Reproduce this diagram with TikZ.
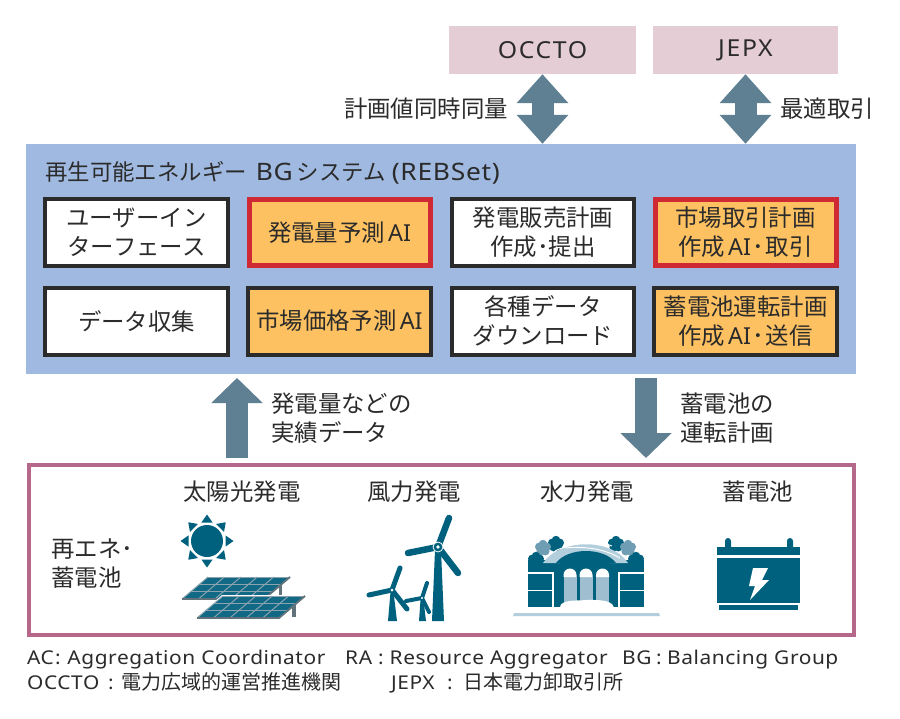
\documentclass[tikz,border=0pt]{standalone}
\usepackage{fontspec}
\setmainfont{Noto Sans CJK JP}
\newfontfamily\lat{Noto Sans}
\newfontfamily\latw[LetterSpace=7,FakeStretch=1.06]{Noto Sans}
\newfontfamily\latn[LetterSpace=3,FakeStretch=1.1]{Noto Sans}
\usetikzlibrary{arrows.meta}
\definecolor{txt}{HTML}{2B2B2B}
\definecolor{panelblue}{HTML}{A0B9E0}
\definecolor{pinkbox}{HTML}{E5CDD6}
\definecolor{arrowc}{HTML}{5F7F92}
\definecolor{rose}{HTML}{B5688A}
\definecolor{orangeb}{HTML}{FDC161}
\definecolor{redb}{HTML}{CF2A33}
\definecolor{teal}{HTML}{00617F}
\definecolor{tealmid}{HTML}{6F9DB3}
\definecolor{teallight}{HTML}{B3CEDC}
\definecolor{gridg}{HTML}{8BA3AE}
\newcommand{\AIx}{\hspace{3pt}{\lat AI}}
\newcommand{\ndot}{･}
\newcommand{\wdot}{\hspace{1.5pt}･\hspace{1.5pt}}
\newcommand{\nt}[1]{{\latn\fontsize{19}{24}\selectfont #1}}
\newcommand{\tl}[1]{{\latn\fontsize{24}{29}\selectfont #1}}
\tikzset{
  base/.style={text=txt,inner sep=0pt,align=center,font=\fontsize{23.4}{29}\selectfont},
  extbox/.style={base,fill=pinkbox,minimum width=187pt,minimum height=48pt},
  sysbox/.style={base,draw=txt,line width=4pt,minimum width=182.5pt,minimum height=67pt},
  whitebox/.style={sysbox,fill=white},
  orangebox/.style={sysbox,fill=orangeb},
  redbox/.style={sysbox,fill=orangeb,draw=redb,line width=5pt,minimum width=181pt,minimum height=66pt},
  lab/.style={base},
  notelab/.style={text=txt,inner sep=0pt,anchor=base west,font=\fontsize{20}{24}\selectfont},
  bigarrow/.style={draw=arrowc,line width=22pt},
  updown/.style={bigarrow,{Triangle[length=29pt,width=50pt]}-{Triangle[length=29pt,width=50pt]}},
  onehead/.style={bigarrow,-{Triangle[length=25pt,width=50pt]}},
}
\newcommand{\solarpanel}[2]{%
  \begin{scope}[shift={(#1,#2)}]
    \fill[teal!88!gridg] (26,0) -- (108,0) -- (82,22) -- (0,22) -- cycle;
    \foreach \t in {0,0.33,0.66,1}{\draw[gridg,line width=1pt] ({26-26*\t},{22*\t}) -- ({108-26*\t},{22*\t});}
    \foreach \s in {0,0.2,0.4,0.6,0.8,1}{\draw[gridg,line width=1pt] ({26+82*\s},0) -- ({82*\s},22);}
    \draw[gridg!70!black,line width=1.8pt] (0,22) -- (82,22) -- (108,0);
  \end{scope}}
\newcommand{\turbine}[9]{%
  \draw[teal,line width=#9pt,line cap=round] (#1,#2) -- (#3,#4);
  \draw[teal,line width=#9pt,line cap=round] (#1,#2) -- (#5,#6);
  \draw[teal,line width=#9pt,line cap=round] (#1,#2) -- (#7,#8);
}
\newcommand{\treetop}[3]{%
  \begin{scope}[shift={(#1,#2)}]
    \foreach \a in {90,162,234,306,18}{\fill[#3] (\a:4pt) circle (4.2pt);}
    \fill[#3] (0,0) circle (4pt);
  \end{scope}}
\begin{document}
\begin{tikzpicture}[x=1pt,y=-1pt]
\useasboundingbox (0,0) rectangle (900,718);
\fill[white] (0,0) rectangle (900,718);
% panels
\node[fill=panelblue,minimum width=830pt,minimum height=230pt,inner sep=0pt] (panel) at (441,259) {};
\node[extbox] (occto) at (542.5,50) {\latw OCCTO};
\node[extbox,minimum width=185pt] (jepx) at (745.5,50) {\latw JEPX};
\node[lab,anchor=west,font=\fontsize{22.4}{29}\selectfont] (title) at (45,173) {再生可能エネルギー\hspace{9pt}\tl{BG}\hspace{4pt}システム\hspace{6pt}\tl{(REBSet)}};
\node[whitebox] (ui) at (136.5,232.5) {ユーザーイン\\ターフェース};
\node[redbox] (gen) at (339.5,232.5) {発電量予測\AIx};
\node[whitebox] (sales) at (543,232.5) {発電販売計画\\作成\ndot 提出};
\node[redbox] (mkt) at (745.5,232.5) {市場取引計画\\作成\AIx\wdot 取引};
\node[whitebox] (data) at (136.5,321) {データ収集};
\node[orangebox] (price) at (339.5,321) {市場価格予測\AIx};
\node[whitebox] (dl) at (543,321) {各種データ\\ダウンロード};
\node[orangebox] (batt) at (745.5,321) {蓄電池運転計画\\作成\AIx\wdot 送信};
% bottom
\node[draw=rose,line width=4pt,minimum width=825pt,minimum height=170pt,inner sep=0pt] (res) at (441.5,549.5) {};
% arrows
\coordinate (upS) at (237,458);
\coordinate (upE) at (237,378);
\coordinate (dnS) at (646,378);
\coordinate (dnE) at (646,458);
\draw[updown] (occto.south) -- (occto.south |- panel.north);
\draw[updown] (jepx.south) -- (jepx.south |- panel.north);
\draw[onehead] (upS) -- (upE);
\draw[onehead] (dnS) -- (dnE);
% labels
\node[lab,anchor=east] (l1) at (508,109) {計画値同時同量};
\node[lab,anchor=west] (l2) at (780,109) {最適取引};
\node[lab,align=left,anchor=west] (l3) at (271,418) {発電量などの\\実績データ};
\node[lab,align=left,anchor=west] (l4) at (680,418) {蓄電池の\\運転計画};
\node[lab,align=left,anchor=west] (l5) at (51,564) {再エネ･\\蓄電池};
\node[lab] (c1) at (242,492) {太陽光発電};
\node[lab] (c2) at (414,492) {風力発電};
\node[lab] (c3) at (587,492) {水力発電};
\node[lab] (c4) at (758,492) {蓄電池};
\node[notelab] (n1) at (27,664) {\nt{AC}\hspace{2pt}:\hspace{6pt}\nt{Aggregation Coordinator}};
\node[notelab] (n2) at (345,664) {\nt{RA}\hspace{6pt}:\hspace{6pt}\nt{Resource Aggregator}};
\node[notelab] (n3) at (622,664) {\nt{BG}\hspace{5pt}:\hspace{5pt}\nt{Balancing Group}};
\node[notelab] (n4) at (27,689) {\nt{OCCTO}\hspace{9pt}:\hspace{8pt}電力広域的運営推進機関};
\node[notelab] (n5) at (391,689) {\nt{JEPX}\hspace{13pt}:\hspace{10pt}日本電力卸取引所};
% sun
\fill[teal] (207,541) circle (16pt);
\foreach \a in {0,45,...,315}{
  \begin{scope}[shift={(207,541)},rotate=\a]
    \fill[teal] (18.5,-5.6) -- (26.5,0) -- (18.5,5.6) -- cycle;
  \end{scope}}
% solar panels
\draw[gridg!70!black,line width=3pt] (280,585) -- (280,600);
\solarpanel{182}{577}
\draw[gridg!70!black,line width=3.5pt] (294,603) -- (294,617);
\fill[white] (222,595) -- (304,595) -- (278,618) -- (196,618) -- cycle;
\solarpanel{197}{596}
% turbines
\fill[teal] (435,550) -- (441,550) -- (444,621) -- (432,621) -- cycle;
\turbine{438}{547}{449}{518}{408}{553}{458}{573}{6.5}
\fill[teal] (438,547) circle (5pt);
\draw[white,line width=.8pt] (438,547) circle (5pt);
\fill[white] (438,547) circle (1.8pt);
\fill[teal] (390.5,592) -- (393.5,592) -- (397,621) -- (388,621) -- cycle;
\turbine{392}{590}{400}{568}{369}{595}{407}{609}{5}
\fill[white] (392,590) circle (1.5pt);
\fill[teal] (420.5,600) -- (423.5,600) -- (426,621) -- (419,621) -- cycle;
\turbine{422}{598}{427}{583}{406}{601}{429}{612}{4}
\fill[white] (422,598) circle (1.2pt);
% dam
\treetop{556}{544}{teal}
\treetop{616}{544}{teal}
\treetop{543}{548}{tealmid}
\treetop{628}{548}{tealmid}
\treetop{536}{560}{teal}
\treetop{636}{560}{teal}
\fill[teal] (528,560) rectangle (644,574);
\fill[teal] (553,565) rectangle (619,607);
\fill[teal] (528,572) rectangle (553,607);
\fill[teal] (619,572) rectangle (644,607);
\draw[white,line width=1.2pt] (528,573) -- (553,573) -- (553,608);
\draw[white,line width=1.2pt] (644,573) -- (619,573) -- (619,608);
\draw[white,line width=1.4pt] (528,590.5) -- (553,590.5) (619,590.5) -- (644,590.5);
\fill[teallight] (543,563) .. controls (560,538) and (612,538) .. (628,563) -- (610,563) .. controls (600,548) and (572,548) .. (560,563) -- cycle;
\fill[teal] (556,563) .. controls (568,547) and (604,547) .. (616,563) -- cycle;
\draw[white,line width=.9pt] (555,551) .. controls (575,541) and (600,541) .. (612,546);
\draw[white,line width=.9pt] (565,548) .. controls (585,546) and (605,549) .. (620,558);
\foreach \x in {570,586,602.5}{
  \fill[teallight!70!tealmid] (\x-6.5,602) -- (\x-6.5,577) -- (\x+6.5,577) -- (\x+6.5,602) -- cycle;
  \fill[white] (\x-6.5,577) -- (\x-6.5,575) arc (180:0:6.5pt) -- (\x+6.5,577) -- cycle;
}
\fill[white] (560,607.5) .. controls (560,599) and (578,601) .. (586,600) .. controls (595,600) and (612,599) .. (614,607.5) -- cycle;
\fill[teallight] (514,613) -- (659,613) -- (660,616) -- (513,616) -- cycle;
% battery
\fill[teal] (725,548) -- (725,541) arc (180:0:3pt) -- (731,548) -- cycle;
\fill[teal] (787,548) -- (787,541) arc (180:0:3pt) -- (793,548) -- cycle;
\fill[teal] (717,547) rectangle (800,555);
\fill[teal] (717,558) rectangle (800,603);
\fill[teal] (719,605) rectangle (798,610);
\fill[white] (753,568) -- (768,568) -- (762,580) -- (769,580) -- (750,600) -- (755,586) -- (749,586) -- cycle;
\end{tikzpicture}
\end{document}
